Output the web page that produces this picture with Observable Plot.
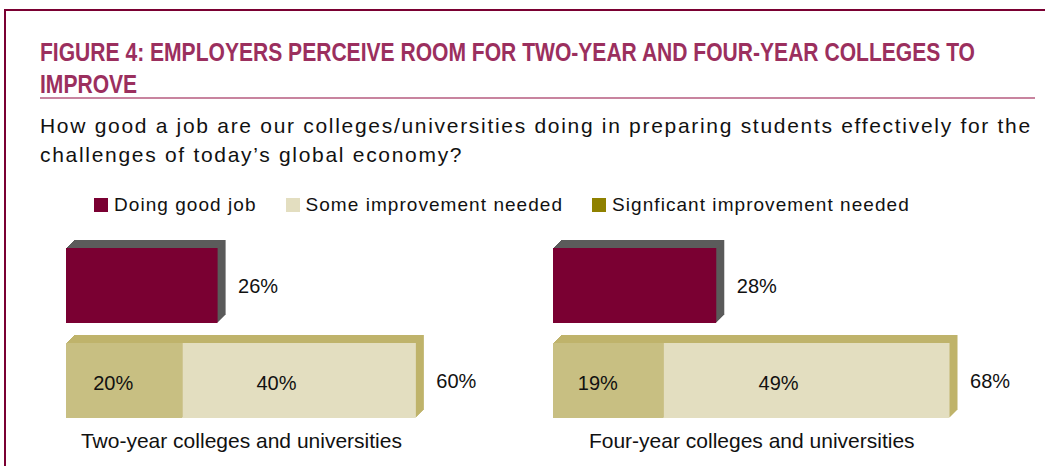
<!DOCTYPE html>
<html><head><meta charset="utf-8">
<script src="https://cdn.jsdelivr.net/npm/d3@7"></script>
<script src="https://cdn.jsdelivr.net/npm/@observablehq/plot@0.6"></script>
<style>
body{margin:0;background:#fff;width:1045px;height:466px;overflow:hidden;position:relative;font-family:"Liberation Sans",Arial,sans-serif;color:#111;}
#frame{position:absolute;left:4px;top:9px;width:1100px;height:500px;border-left:2px solid #7a0032;border-top:2px solid #7a0032;}
#title{position:absolute;left:40px;top:36px;font-family:"Liberation Sans",Arial,sans-serif;font-weight:bold;font-size:25px;line-height:32px;color:#9b2f5e;white-space:nowrap}
#title span{display:inline-block;transform-origin:0 50%}
#rule{position:absolute;left:40px;top:97px;width:995px;height:2px;background:#c8849f}
#subtitle{position:absolute;left:40px;top:111px;font-size:21px;line-height:29px;letter-spacing:1.7px;white-space:nowrap}
#legend{position:absolute;left:94px;top:193px;display:flex;align-items:center;font-size:19px;line-height:24px;letter-spacing:1.05px;white-space:nowrap}
#legend .item{display:flex;align-items:center;margin-right:29px}
#legend .sw{width:14px;height:14px;margin-right:6px}
.chart{position:absolute;top:225px}
</style></head>
<body>
<div id="frame"></div>
<div id="title"><span id="t1">FIGURE 4: EMPLOYERS PERCEIVE ROOM FOR TWO-YEAR AND FOUR-YEAR COLLEGES TO</span><br><span id="t2">IMPROVE</span></div>
<div id="rule"></div>
<div id="subtitle">How good a job are our colleges/universities doing in preparing students effectively for the<br>challenges of today’s global economy?</div>
<div id="legend"></div>
<div id="c0" class="chart" style="left:0px"></div>
<div id="c1" class="chart" style="left:487px"></div>
<script>
const categories = ["Two-year colleges and universities", "Four-year colleges and universities"];
const doingGood = [26, 28];
const significant = [20, 19];
const some = [40, 49];
const totals = [60, 68];
const legendLabels = ["Doing good job", "Some improvement needed", "Signficant improvement needed"];
const legendColors = ["#7a0032", "#e3dec0", "#8f8100"];

// condense the title to the reference's width
const t1 = document.getElementById("t1"), t2 = document.getElementById("t2");
const sx = 935 / t1.getBoundingClientRect().width;
t1.style.transform = `scaleX(${sx})`;
t2.style.transform = `scaleX(${sx})`;

const legend = document.getElementById("legend");
legendLabels.forEach((l, i) => {
  const it = document.createElement("div");
  it.className = "item";
  it.innerHTML = `<span class="sw" style="background:${legendColors[i]}"></span><span>${l}</span>`;
  legend.appendChild(it);
});

const colorScale = {
  domain: ["good", "sig", "some", "goodSide", "improveSide"],
  range: ["#7a0032", "#c8bf82", "#e3dec0", "#5b5b5b", "#bfb36b"]
};

function chart(i, width, marginRight) {
  const segs = [
    {row: "good", part: "good", x1: 0, x2: doingGood[i], v: doingGood[i]},
    {row: "improve", part: "sig", x1: 0, x2: significant[i], v: significant[i]},
    {row: "improve", part: "some", x1: significant[i], x2: significant[i] + some[i], v: some[i]}
  ];
  const rowsData = [
    {row: "good", total: doingGood[i], side: "goodSide"},
    {row: "improve", total: totals[i], side: "improveSide"}
  ];
  const depth = d3.range(8, 0, -1);
  const marks = depth.map(k => Plot.barX(rowsData, {y: "row", x1: 0, x2: "total", dx: k, dy: -k, fill: "side"}));
  marks.push(Plot.barX(segs, {y: "row", x1: "x1", x2: "x2", fill: "part"}));
  marks.push(Plot.text(rowsData, {y: "row", x: "total", text: d => d.total + "%", dx: 20, dy: 1, textAnchor: "start", fill: "#111", fontSize: 20}));
  marks.push(Plot.text(segs.filter(d => d.row === "improve"), {y: "row", x: d => d.x1 + d.v * 0.4, text: d => d.v + "%", dy: 3, textAnchor: "middle", fill: "#111", fontSize: 20}));
  marks.push(Plot.text([categories[i]], {x: totals[i] / 2, frameAnchor: "bottom", dy: 22, lineAnchor: "middle", text: d => d, fill: "#111", fontSize: 21}));
  return Plot.plot({
    width, height: 241,
    marginLeft: 66, marginRight, marginTop: 22, marginBottom: 47,
    x: {domain: [0, 72.2], axis: null},
    y: {domain: ["good", "improve"], paddingInner: 0.2083, paddingOuter: 0, axis: null},
    color: colorScale,
    style: {fontFamily: "Liberation Sans, Arial, sans-serif", background: "transparent", overflow: "visible"},
    marks
  });
}
document.getElementById("c0").appendChild(chart(0, 487, 0));
document.getElementById("c1").appendChild(chart(1, 558, 71));
</script>
</body></html>
